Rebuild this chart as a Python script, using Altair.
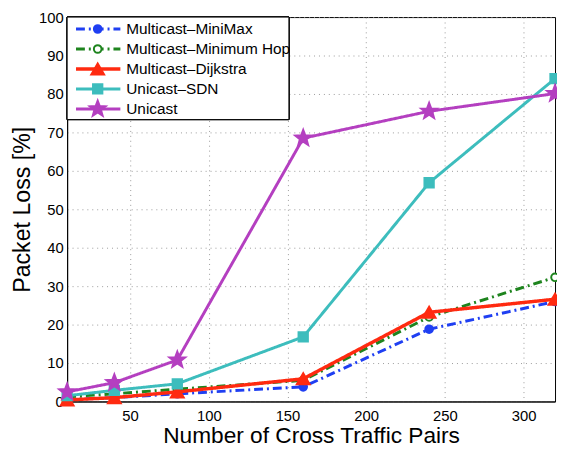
import math
import altair as alt
import pandas as pd

# ---- data ----
pairs = [10, 40, 80, 160, 240, 320]
minimax = [0.5, 1.0, 2.0, 3.8, 18.8, 26.0]
minhop = [1.2, 2.0, 3.2, 5.5, 22.0, 32.3]
dijkstra = [0.4, 1.0, 2.5, 5.9, 23.2, 26.6]
unicast_sdn = [1.5, 2.9, 4.6, 16.8, 56.9, 84.0]
unicast = [2.5, 4.9, 10.8, 68.5, 75.5, 80.1]

series_names = ["Multicast\u2013MiniMax", "Multicast\u2013Minimum Hop",
                "Multicast\u2013Dijkstra", "Unicast\u2013SDN", "Unicast"]
series_values = [minimax, minhop, dijkstra, unicast_sdn, unicast]
x_ticks = [50, 100, 150, 200, 250, 300]
y_ticks = [0, 10, 20, 30, 40, 50, 60, 70, 80, 90, 100]

# ---- styles ----
def star_path():
    pts = []
    for i in range(10):
        r = 1.0 if i % 2 == 0 else 0.42
        a = -math.pi / 2 + i * math.pi / 5
        pts.append(f"{r*math.cos(a):.3f},{r*math.sin(a):.3f}")
    return "M" + "L".join(pts) + "Z"

styles = [
    dict(color="#1f3ff2", fill="#1f3ff2", dash=[9, 4, 2, 4], shape="circle", size=60, sw=3),
    dict(color="#1e841e", fill="#ffffff", dash=[9, 4, 2, 4], shape="circle", size=60, sw=3),
    dict(color="#ff2a10", fill="#ff2a10", dash=[1, 0], shape="triangle-up", size=170, sw=3.5),
    dict(color="#3dbdbd", fill="#3dbdbd", dash=[1, 0], shape="square", size=90, sw=3),
    dict(color="#b43fc0", fill="#b43fc0", dash=[1, 0], shape=star_path(), size=290, sw=3),
]

rows = []
for name, vals in zip(series_names, series_values):
    for xv, yv in zip(pairs, vals):
        rows.append({"series": name, "pairs": xv, "loss": yv})
df = pd.DataFrame(rows)

legend_df = pd.DataFrame({"series": series_names, "idx": list(range(len(series_names)))})

W, H = 495, 390
FONT = "Liberation Sans"

x_scale = alt.Scale(domain=[10, 320], nice=False)
y_scale = alt.Scale(domain=[0, 100], nice=False)
x_axis = alt.Axis(values=x_ticks, title="Number of Cross Traffic Pairs")
y_axis = alt.Axis(values=y_ticks, title="Packet Loss [%]")

x_enc = alt.X("pairs:Q", scale=x_scale, axis=x_axis)
y_enc = alt.Y("loss:Q", scale=y_scale, axis=y_axis)

layers = []
for name, st in zip(series_names, styles):
    base = alt.Chart(df).transform_filter(alt.datum.series == name)
    layers.append(base.mark_line(color=st["color"], strokeWidth=st["sw"],
                                 strokeDash=st["dash"], clip=False).encode(x=x_enc, y=y_enc))
    layers.append(base.mark_point(shape=st["shape"], size=st["size"], filled=True,
                                  fill=st["fill"], stroke=st["color"], strokeWidth=2,
                                  opacity=1, clip=False).encode(x=x_enc, y=y_enc))

# ---- legend ----
leg_base = alt.Chart(legend_df).transform_calculate(ly="96.9 - datum.idx * 5.2")
leg_y = alt.Y("ly:Q", scale=y_scale, axis=y_axis)
layers.append(alt.Chart(legend_df).mark_rect(fill="white", stroke="black", strokeWidth=1).encode(
    x=alt.value(0), x2=alt.value(225), y=alt.value(0), y2=alt.value(104)))
for name, st in zip(series_names, styles):
    b = leg_base.transform_filter(alt.datum.series == name)
    layers.append(b.mark_rule(color=st["color"], strokeWidth=st["sw"], strokeDash=st["dash"]).encode(
        x=alt.value(9), x2=alt.value(54), y=leg_y))
    layers.append(b.mark_point(shape=st["shape"], size=st["size"], filled=True, fill=st["fill"],
                               stroke=st["color"], strokeWidth=2, opacity=1).encode(
        x=alt.value(31), y=leg_y))
layers.append(leg_base.mark_text(align="left", baseline="middle", fontSize=15.6, font=FONT,
                                 color="black").encode(x=alt.value(60), y=leg_y, text="series:N"))

chart = alt.layer(*layers).properties(
    width=W, height=H,
    autosize=alt.AutoSizeParams(type="none"),
    padding={"left": 60, "top": 6, "right": 2, "bottom": 45},
).configure_view(stroke="black", strokeWidth=1).configure_axis(
    labelFont=FONT, titleFont=FONT, labelFontSize=15, titleFontSize=23.5,
    titleFontWeight="normal", labelColor="black", titleColor="black",
    domainColor="black", grid=True, gridColor="#9a9a9a", gridDash=[1, 4],
    gridWidth=1, ticks=False, labelPadding=5, labelOverlap=False,
).configure_axisX(titlePadding=2, labelPadding=7, titleFontSize=23).configure_axisY(titlePadding=4, labelPadding=4)

chart.save("out.html", embed_options={"renderer": "svg", "actions": False})
